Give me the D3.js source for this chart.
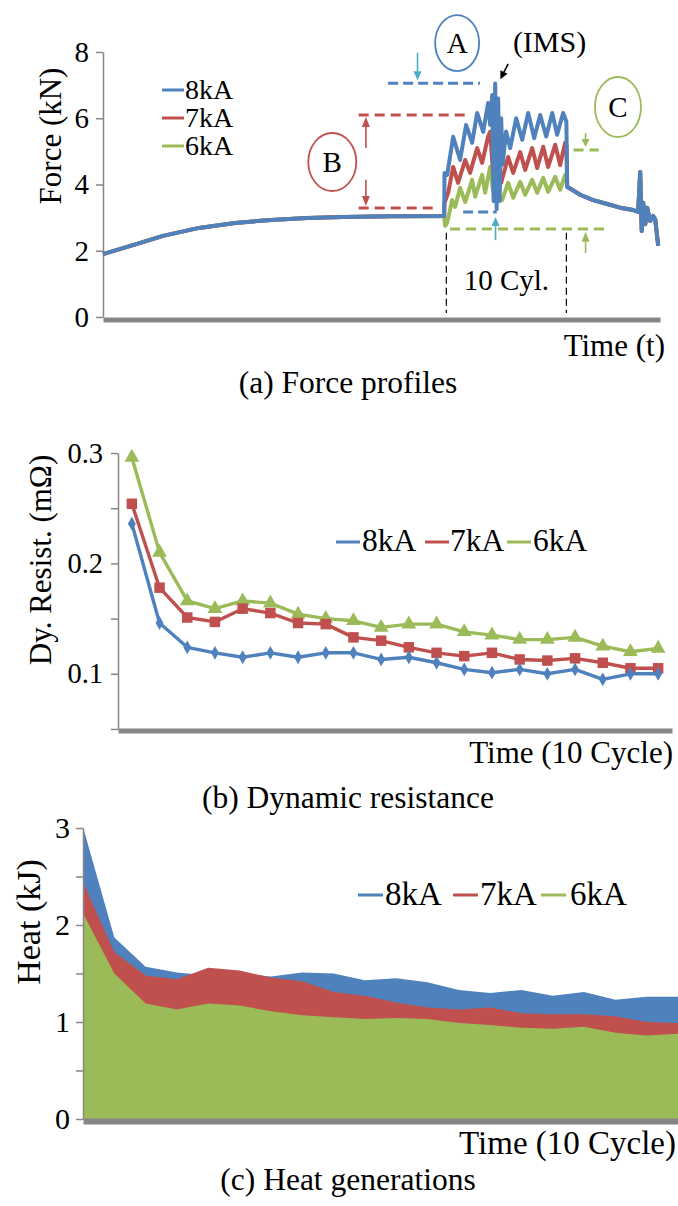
<!DOCTYPE html>
<html><head><meta charset="utf-8">
<script src="https://cdn.jsdelivr.net/npm/d3@7"></script>
<style>
html,body{margin:0;padding:0;background:#fff;}
svg, svg text{font-family:"Liberation Serif","Times New Roman",Times,serif;}
</style></head><body>
<svg id="chart" width="678" height="1206"></svg>
<script>
// ---------- shared ----------
const seriesNames = ["8kA", "7kA", "6kA"];
const seriesColors = ["#4f81bd", "#c0504d", "#9bbb59"];

// ---------- (a) Force profiles (time in cycles) ----------
const forceTicks = [0, 2, 4, 6, 8];
const squeezeTime = [0, 2.5, 5, 8, 11, 14, 17, 20, 24, 28.42];
const squeezeForce = [1.90, 2.17, 2.45, 2.69, 2.84, 2.93, 2.99, 3.02, 3.04, 3.05];
const weldTime8 = [28.45, 28.67, 29.17, 29.75, 30.25, 30.75, 31.17, 31.67, 32.08, 32.25, 32.42, 32.54, 32.67, 32.79, 32.92, 33.04, 33.17, 33.29, 33.58, 33.92, 34.42, 34.92, 35.42, 35.92, 36.42, 36.92, 37.42, 37.83, 38.33, 38.6];
const weldForce8 = [4.35, 4.29, 5.44, 4.74, 5.80, 5.26, 6.16, 5.59, 6.46, 5.80, 6.70, 3.50, 7.05, 3.25, 6.60, 3.50, 6.00, 4.60, 5.60, 5.10, 6.00, 5.35, 6.16, 5.40, 6.10, 5.45, 6.16, 5.50, 6.16, 5.90];
const weldTime7 = [28.45, 28.75, 29.17, 29.58, 30.17, 30.58, 31.17, 31.58, 32.08, 32.25, 32.5, 33.17, 33.75, 34.17, 34.75, 35.17, 35.75, 36.17, 36.67, 37.08, 37.67, 38.08, 38.5, 38.6];
const weldForce7 = [3.45, 3.75, 4.53, 4.05, 4.74, 4.35, 5.10, 4.65, 5.45, 5.59, 4.30, 4.05, 4.83, 4.35, 4.98, 4.44, 5.10, 4.50, 5.14, 4.53, 5.20, 4.59, 5.26, 5.20];
const weldTime6 = [28.5, 28.67, 29.08, 29.33, 29.75, 30.17, 30.75, 31.0, 31.58, 31.83, 32.25, 32.5, 33.25, 33.75, 34.17, 34.75, 35.17, 35.75, 36.17, 36.67, 37.08, 37.67, 38.08, 38.5, 38.6];
const weldForce6 = [2.75, 2.84, 3.53, 3.32, 3.90, 3.47, 4.14, 3.63, 4.29, 3.75, 4.53, 3.80, 3.53, 4.05, 3.60, 4.08, 3.69, 4.14, 3.75, 4.20, 3.78, 4.23, 3.84, 4.29, 4.20];
const holdTime = [38.67, 39.75, 40.83, 42.0, 43.08, 44.17, 44.58, 44.75, 44.88, 45.0, 45.17, 45.33, 45.58, 45.83, 46.0, 46.25];
const holdForce = [3.93, 3.69, 3.53, 3.41, 3.30, 3.23, 3.17, 4.38, 2.60, 3.45, 2.80, 3.30, 2.90, 3.05, 2.95, 2.15];

// ---------- (b) Dynamic resistance ----------
const cycleLabels = [1, 2, 3, 4, 5, 6, 7, 8, 9, 10, 11, 12, 13, 14, 15, 16, 17, 18, 19, 20];
const resistTicks = [0.05, 0.1, 0.15, 0.2, 0.25, 0.3];
const resistLabels = [0.1, 0.2, 0.3];
const resist8 = [0.236, 0.146, 0.124, 0.119, 0.115, 0.119, 0.115, 0.119, 0.119, 0.113, 0.115, 0.110, 0.104, 0.101, 0.104, 0.100, 0.104, 0.095, 0.100, 0.100];
const resist7 = [0.254, 0.178, 0.151, 0.147, 0.159, 0.155, 0.146, 0.145, 0.133, 0.130, 0.124, 0.119, 0.116, 0.119, 0.113, 0.112, 0.114, 0.110, 0.105, 0.105];
const resist6 = [0.296, 0.210, 0.166, 0.159, 0.166, 0.164, 0.154, 0.150, 0.148, 0.142, 0.145, 0.145, 0.138, 0.135, 0.131, 0.131, 0.133, 0.125, 0.120, 0.123];

// ---------- (c) Heat generations ----------
const heatTicks = [0, 0.5, 1, 1.5, 2, 2.5, 3];
const heatLabels = [0, 1, 2, 3];
const heat8 = [3.01, 1.87, 1.57, 1.51, 1.48, 1.50, 1.47, 1.51, 1.50, 1.43, 1.45, 1.41, 1.33, 1.30, 1.33, 1.27, 1.31, 1.23, 1.26, 1.26];
const heat7 = [2.44, 1.72, 1.48, 1.44, 1.56, 1.53, 1.46, 1.42, 1.31, 1.27, 1.20, 1.15, 1.13, 1.15, 1.09, 1.08, 1.08, 1.06, 1.00, 0.99];
const heat6 = [2.12, 1.50, 1.19, 1.13, 1.19, 1.17, 1.11, 1.07, 1.05, 1.03, 1.04, 1.03, 0.99, 0.97, 0.94, 0.93, 0.95, 0.89, 0.86, 0.88];

// ================= drawing =================
const FONT = '"Liberation Serif","Times New Roman",Times,serif';
const svg = d3.select("#chart");
const AXIS = "#868686";
const CYAN = "#4bacc6";

function leftAxis(x, scale, ticks, labels, fmt, fs, pad) {
  const g = svg.append("g").attr("transform", `translate(${x},0)`)
    .call(d3.axisLeft(scale).tickValues(ticks).tickSize(7).tickSizeOuter(0).tickPadding(pad)
      .tickFormat(d => labels.some(l => Math.abs(l - d) < 1e-9) ? fmt(d) : ""));
  g.attr("font-family", FONT).attr("font-size", fs);
  g.select(".domain").attr("stroke", AXIS).attr("stroke-width", 1.5);
  g.selectAll(".tick line").attr("stroke", AXIS).attr("stroke-width", 1.5);
  g.selectAll(".tick text").attr("fill", "#000").style("font-size", fs + "px").style("font-family", FONT);
  return g;
}
function bottomBar(y, scale, w) {
  const g = svg.append("g").attr("transform", `translate(0,${y})`)
    .call(d3.axisBottom(scale).tickValues([]).tickSizeOuter(0));
  g.select(".domain").attr("stroke", AXIS).attr("stroke-width", w);
}
function txt(x, y, s, fs, anchor, rot) {
  const t = svg.append("text").attr("x", x).attr("y", y).text(s)
    .style("font-size", fs + "px").style("font-family", FONT)
    .attr("text-anchor", anchor || "start").attr("fill", "#000");
  if (rot) t.attr("transform", `rotate(${rot},${x},${y})`).attr("dominant-baseline", "central");
  return t;
}
function arrowLine(x1, y1, x2, y2, color, hw, hl) {
  const a = Math.atan2(y2 - y1, x2 - x1);
  const bx = x2 - hl * Math.cos(a), by = y2 - hl * Math.sin(a);
  svg.append("line").attr("x1", x1).attr("y1", y1).attr("x2", bx).attr("y2", by)
    .attr("stroke", color).attr("stroke-width", 1.6);
  const px = -Math.sin(a) * hw / 2, py = Math.cos(a) * hw / 2;
  svg.append("path").attr("d", `M${x2},${y2}L${bx + px},${by + py}L${bx - px},${by - py}Z`).attr("fill", color);
}

// ---------- panel (a) ----------
const xa = d3.scaleLinear([0, 46.4], [103, 660]);
const ya = d3.scaleLinear([0, 8], [317, 52]);
leftAxis(103, ya, forceTicks, forceTicks, d3.format("d"), 29, 7);
bottomBar(ya(0) + 2.5, xa, 5);

const lineA = d3.line().x(d => xa(d[0])).y(d => ya(d[1]));
const forceSeries = [
  { t: weldTime8, f: weldForce8 },
  { t: weldTime7, f: weldForce7 },
  { t: weldTime6, f: weldForce6 }
];
const seriesA = forceSeries.map(s =>
  d3.zip(squeezeTime.concat(s.t, holdTime), squeezeForce.concat(s.f, holdForce)));
[2, 1, 0].forEach(i => {
  svg.append("path").attr("d", lineA(seriesA[i])).attr("fill", "none")
    .attr("stroke", seriesColors[i]).attr("stroke-width", 4).attr("stroke-linejoin", "round");
});

// legend (a)
seriesNames.forEach((n, i) => {
  const cy = 90 + i * 28;
  svg.append("line").attr("x1", 162).attr("x2", 184).attr("y1", cy).attr("y2", cy)
    .attr("stroke", seriesColors[i]).attr("stroke-width", 3);
  txt(185, cy + 9, n, 28);
});

// annotations (a)
function hDash(t1, t2, f, color, w, dash) {
  svg.append("line").attr("x1", xa(t1)).attr("x2", xa(t2)).attr("y1", ya(f)).attr("y2", ya(f))
    .attr("stroke", color).attr("stroke-width", w).attr("stroke-dasharray", dash);
}
function ell(t, f, rx, ry, color, label) {
  svg.append("ellipse").attr("cx", xa(t)).attr("cy", ya(f)).attr("rx", rx).attr("ry", ry)
    .attr("fill", "none").attr("stroke", color).attr("stroke-width", 1.8);
  txt(xa(t), ya(f) + 10, label, 29, "middle");
}
// A
hDash(23.75, 31.4, 7.06, seriesColors[0], 3, "10,5");
arrowLine(xa(26.2), ya(7.97), xa(26.2), ya(7.15), CYAN, 8, 9);
ell(29.5, 8.27, 22, 28, seriesColors[0], "A");
txt(xa(37.2), ya(8.0), "(IMS)", 30, "middle");
arrowLine(xa(33.75), ya(7.64), xa(33.1), ya(7.18), "#000", 8, 8);
// B
hDash(21.3, 30.4, 6.10, seriesColors[1], 3, "10,6");
hDash(21.3, 27.9, 3.29, seriesColors[1], 3, "10,6");
arrowLine(xa(21.9), ya(5.1), xa(21.9), ya(6.04), seriesColors[1], 8, 10);
arrowLine(xa(21.9), ya(4.14), xa(21.9), ya(3.35), seriesColors[1], 8, 10);
ell(19.1, 4.68, 24, 29, seriesColors[1], "B");
// lower markers
hDash(30.0, 32.8, 3.17, seriesColors[0], 3, "10,5");
arrowLine(xa(32.7), ya(2.32), xa(32.7), ya(3.02), CYAN, 8, 9);
hDash(28.9, 42.0, 2.66, seriesColors[2], 3, "10,6");
arrowLine(xa(40.2), ya(1.93), xa(40.2), ya(2.57), seriesColors[2], 8, 10);
// C
hDash(39.2, 41.3, 5.04, seriesColors[2], 3, "10,6");
arrowLine(xa(40.2), ya(5.55), xa(40.2), ya(5.13), seriesColors[2], 8, 8);
ell(42.9, 6.34, 23, 30, seriesColors[2], "C");
// 10 cycles
[28.6, 38.6].forEach(t => {
  svg.append("line").attr("x1", xa(t)).attr("x2", xa(t)).attr("y1", ya(2.54)).attr("y2", ya(0.12))
    .attr("stroke", "#000").attr("stroke-width", 1.2).attr("stroke-dasharray", "7,4");
});
txt(xa(33.6), ya(0.82), "10 Cyl.", 29, "middle");

txt(50, 136, "Force (kN)", 31, "middle", -90);
txt(665, 356, "Time (t)", 31, "end");
txt(348, 393, "(a) Force profiles", 31.5, "middle");

// ---------- panel (b) ----------
const xb = d3.scalePoint(cycleLabels, [118, 672]).padding(0.5);
const yb = d3.scaleLinear([0.05, 0.3], [729, 453]);
leftAxis(118, yb, resistTicks, resistLabels, d3.format(".1f"), 28.5, 8);
bottomBar(yb(0.05) + 1.5, xb, 5);

const resistSeries = [resist8, resist7, resist6];
const symbols = [d3.symbolDiamond, d3.symbolSquare, d3.symbolTriangle];
const symSizes = [55, 110, 95];
const lineB = d3.line().x((d, i) => xb(cycleLabels[i])).y(d => yb(d));
[2, 1, 0].forEach(i => {
  svg.append("path").attr("d", lineB(resistSeries[i])).attr("fill", "none")
    .attr("stroke", seriesColors[i]).attr("stroke-width", 3.4).attr("stroke-linejoin", "round");
  svg.append("g").selectAll("path").data(resistSeries[i]).join("path")
    .attr("d", d3.symbol(symbols[i], symSizes[i]))
    .attr("transform", (d, j) => `translate(${xb(cycleLabels[j])},${yb(d)})`)
    .attr("fill", seriesColors[i]);
});
// legend (b)
const legB = [[336, 362], [425, 450], [507, 533]];
seriesNames.forEach((n, i) => {
  svg.append("line").attr("x1", legB[i][0]).attr("x2", legB[i][0] + 24).attr("y1", 542).attr("y2", 542)
    .attr("stroke", seriesColors[i]).attr("stroke-width", 3);
  txt(legB[i][1], 551, n, 31.5);
});
txt(40, 560, "Dy. Resist. (m\u03A9)", 31, "middle", -90);
txt(673, 763, "Time (10 Cycle)", 31, "end");
txt(348, 808, "(b) Dynamic resistance", 31.5, "middle");

// ---------- panel (c) ----------
const xc = d3.scalePoint(cycleLabels, [83, 678]);
const yc = d3.scaleLinear([0, 3], [1119, 828]);
const heatSeries = [heat8, heat7, heat6];
const areaC = d3.area().x((d, i) => xc(cycleLabels[i])).y0(yc(0)).y1(d => yc(d));
[0, 1, 2].forEach(i => {
  svg.append("path").attr("d", areaC(heatSeries[i])).attr("fill", seriesColors[i]);
});
leftAxis(83, yc, heatTicks, heatLabels, d3.format("d"), 30, 6);
bottomBar(yc(0) + 2, xc, 6);
const legC = [[358, 385], [453, 480], [541, 570]];
seriesNames.forEach((n, i) => {
  svg.append("line").attr("x1", legC[i][0]).attr("x2", legC[i][0] + 25).attr("y1", 895).attr("y2", 895)
    .attr("stroke", seriesColors[i]).attr("stroke-width", 3);
  txt(legC[i][1], 905, n, 33);
});
txt(28, 922, "Heat (kJ)", 34, "middle", -90);
txt(676, 1154, "Time (10 Cycle)", 33, "end");
txt(348, 1190, "(c) Heat generations", 31.5, "middle");
</script>
</body></html>
